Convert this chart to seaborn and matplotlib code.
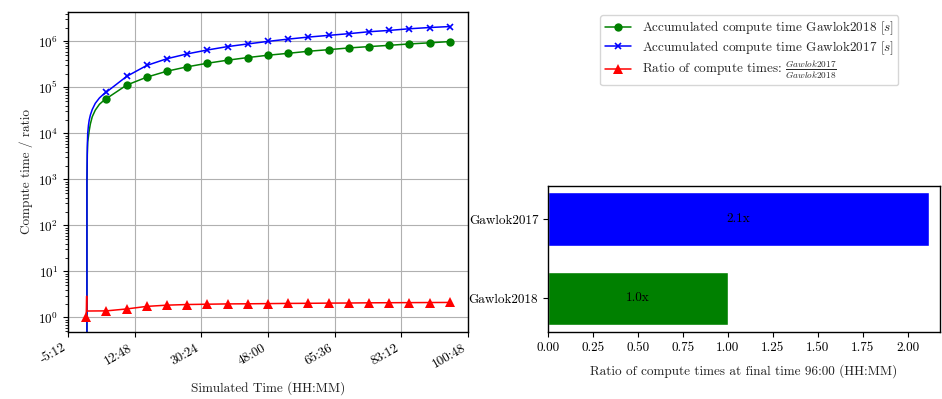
import numpy as np
import pandas as pd
import matplotlib
matplotlib.use("Agg")
import matplotlib.pyplot as plt
import matplotlib.ticker as mticker
import seaborn as sns

# ---------------- data ----------------
# simulated time in hours
time_h = [0, 0.2, 0.3, 0.4, 0.6, 0.8, 1.1, 1.6, 2.4, 3.5, 4.4,
          5.33, 10.67, 16.0, 21.33, 26.67, 32.0, 37.33, 42.67, 48.0,
          53.33, 58.67, 64.0, 69.33, 74.67, 80.0, 85.33, 90.67, 96.0]
# accumulated compute time [s]
gawlok2018_s = [0, 800, 3500, 6500, 8500, 1.15e4, 1.6e4, 2.3e4, 3.2e4, 4.3e4, 5.0e4,
                5.7e4, 1.12e5, 1.67e5, 2.25e5, 2.8e5, 3.35e5, 3.9e5, 4.45e5, 5.0e5,
                5.5e5, 6.1e5, 6.6e5, 7.2e5, 7.7e5, 8.2e5, 8.8e5, 9.3e5, 9.9e5]
gawlok2017_s = [0, 930, 5000, 1.0e4, 1.5e4, 1.95e4, 2.5e4, 3.3e4, 4.5e4, 5.9e4, 6.9e4,
                7.9e4, 1.73e5, 3.0e5, 4.2e5, 5.35e5, 6.5e5, 7.7e5, 8.8e5, 1.0e6,
                1.12e6, 1.24e6, 1.35e6, 1.47e6, 1.62e6, 1.73e6, 1.88e6, 2.0e6, 2.1e6]
# ratio of compute times
ratio_time_h = [0, 0.13, 0.16,
                5.33, 10.67, 16.0, 21.33, 26.67, 32.0, 37.33, 42.67, 48.0,
                53.33, 58.67, 64.0, 69.33, 74.67, 80.0, 85.33, 90.67, 96.0]
ratio_values = [1.0, 2.9, 1.38,
                1.39, 1.53, 1.74, 1.85, 1.91, 1.94, 1.97, 1.98, 2.0,
                2.02, 2.03, 2.05, 2.06, 2.08, 2.09, 2.1, 2.11, 2.12]
marker_times_h = [5.33, 10.67, 16.0, 21.33, 26.67, 32.0, 37.33, 42.67, 48.0,
                  53.33, 58.67, 64.0, 69.33, 74.67, 80.0, 85.33, 90.67, 96.0]

bar_models = ["Gawlok2017", "Gawlok2018"]
bar_ratios = [2.12, 1.0]
bar_colors = ["blue", "green"]

# ---------------- style ----------------
sns.set_style("ticks")
plt.rcParams["font.family"] = ["cmr10", "DejaVu Serif"]
plt.rcParams["mathtext.fontset"] = "cm"
plt.rcParams["axes.formatter.use_mathtext"] = True
plt.rcParams["axes.unicode_minus"] = False
plt.rcParams["font.size"] = 9.5
plt.rcParams["axes.edgecolor"] = "black"
plt.rcParams["xtick.color"] = "black"
plt.rcParams["ytick.color"] = "black"
plt.rcParams["axes.labelcolor"] = "#222222"

fig = plt.figure(figsize=(9.42, 3.99), dpi=100)
ax = fig.add_axes([68 / 942, 67 / 399, 400 / 942, 320 / 399])
axb = fig.add_axes([548 / 942, 67.3 / 399, 392 / 942, 146 / 399])

ax.set_yscale("log")

df = pd.DataFrame({"t": time_h, "g18": gawlok2018_s, "g17": gawlok2017_s})
dfr = pd.DataFrame({"t": ratio_time_h, "r": ratio_values})
mk_idx = [time_h.index(t) for t in marker_times_h]
mk_idx_r = [0] + [ratio_time_h.index(t) for t in marker_times_h]

sns.lineplot(data=df, x="t", y="g18", ax=ax, color="green", marker="o",
             markersize=6, markevery=mk_idx, linewidth=1.1, markeredgewidth=0,
             label=r"Accumulated compute time Gawlok2018 $[s]$")
sns.lineplot(data=df, x="t", y="g17", ax=ax, color="blue", marker="x",
             markersize=5, markevery=mk_idx, linewidth=1.1, markeredgewidth=1.2,
             markeredgecolor="blue",
             label=r"Accumulated compute time Gawlok2017 $[s]$")
sns.lineplot(data=dfr, x="t", y="r", ax=ax, color="red", marker="^",
             markersize=7, markevery=mk_idx_r, linewidth=1.1, markeredgewidth=0,
             label=r"Ratio of compute times: $\frac{Gawlok2017}{Gawlok2018}$")

ax.margins(x=0.05, y=0.05)
ax.autoscale_view()
ax.xaxis.set_major_locator(mticker.LinearLocator(numticks=7))


def hhmm(h, pos=None):
    tot = int(round(h * 60))
    hh, mm = divmod(tot, 60)
    return f"{hh}:{mm:02d}"


ax.xaxis.set_major_formatter(mticker.FuncFormatter(hhmm))
ax.tick_params(axis="x", rotation=30)
for lab in ax.get_xticklabels():
    lab.set_ha("right")
ax.xaxis.get_offset_text().set_visible(False)
ax.yaxis.set_major_locator(mticker.LogLocator(base=10, numticks=12))
ax.grid(True, which="major", color="#b0b0b0", linewidth=0.8)
ax.set_axisbelow(True)
ax.set_xlabel("Simulated Time (HH:MM)", labelpad=8)
ax.set_ylabel("Compute time / ratio")
for s in ax.spines.values():
    s.set_visible(True)
    s.set_linewidth(1.0)

handles, labels = ax.get_legend_handles_labels()
ax.get_legend().remove()
fig.legend(handles, labels, loc="upper left", bbox_to_anchor=(600 / 942, 1 - 15 / 399),
           borderaxespad=0, frameon=True, edgecolor="#cccccc", fancybox=True,
           fontsize=9.5, handlelength=2.0, labelspacing=0.15, borderpad=0.35)

# ---------------- bar chart ----------------
dfb = pd.DataFrame({"model": bar_models, "ratio": bar_ratios})
sns.barplot(data=dfb, y="model", x="ratio", hue="model", palette=bar_colors,
            orient="h", width=0.67, ax=axb, legend=False, saturation=1)
axb.set_ylim(1.42, -0.42)
axb.set_xlim(0, 2.18)
axb.set_ylabel("")
axb.set_xlabel("Ratio of compute times at final time 96:00 (HH:MM)", labelpad=8)
axb.xaxis.set_major_locator(mticker.MultipleLocator(0.25))
axb.xaxis.set_major_formatter(mticker.FormatStrFormatter("%.2f"))
for i, v in enumerate(bar_ratios):
    axb.text(v / 2, i, f"{v:.1f}x", ha="center", va="center", color="black")
for s in axb.spines.values():
    s.set_visible(True)
    s.set_linewidth(1.0)

fig.savefig("out.png", dpi=100)
